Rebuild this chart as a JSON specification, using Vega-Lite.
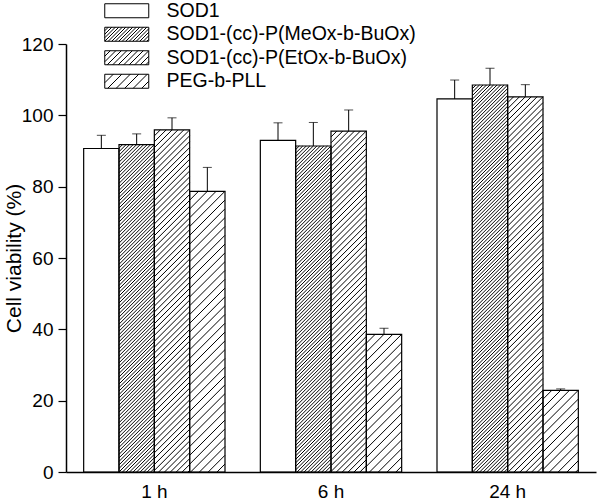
{
  "$schema": "https://vega.github.io/schema/vega-lite/v6.json",
  "width": 530,
  "height": 428,
  "autosize": {"type": "none"},
  "padding": {"left": 66, "top": 44, "right": 4, "bottom": 30},
  "background": "white",
  "config": {
    "view": {"stroke": null},
    "font": "Liberation Sans",
    "axis": {"labelFont": "Liberation Sans", "titleFont": "Liberation Sans", "labelColor": "black", "titleColor": "black", "domainColor": "black", "tickColor": "black", "grid": false},
    "legend": {"labelFont": "Liberation Sans", "labelColor": "black"}
  },
  "data": {
    "values": [
      {"time": "1 h", "series": "SOD1", "value": 90.7, "upper": 94.4},
      {"time": "1 h", "series": "SOD1-(cc)-P(MeOx-b-BuOx)", "value": 91.8, "upper": 94.8},
      {"time": "1 h", "series": "SOD1-(cc)-P(EtOx-b-BuOx)", "value": 95.9, "upper": 99.3},
      {"time": "1 h", "series": "PEG-b-PLL", "value": 78.7, "upper": 85.4},
      {"time": "6 h", "series": "SOD1", "value": 93.0, "upper": 97.9},
      {"time": "6 h", "series": "SOD1-(cc)-P(MeOx-b-BuOx)", "value": 91.4, "upper": 98.0},
      {"time": "6 h", "series": "SOD1-(cc)-P(EtOx-b-BuOx)", "value": 95.6, "upper": 101.5},
      {"time": "6 h", "series": "PEG-b-PLL", "value": 38.6, "upper": 40.3},
      {"time": "24 h", "series": "SOD1", "value": 104.6, "upper": 109.9},
      {"time": "24 h", "series": "SOD1-(cc)-P(MeOx-b-BuOx)", "value": 108.5, "upper": 113.2},
      {"time": "24 h", "series": "SOD1-(cc)-P(EtOx-b-BuOx)", "value": 105.2, "upper": 108.6},
      {"time": "24 h", "series": "PEG-b-PLL", "value": 22.9, "upper": 23.3}
    ]
  },
  "encoding": {
    "x": {
      "field": "time", "type": "nominal", "sort": ["1 h", "6 h", "24 h"],
      "scale": {"paddingInner": 0.2, "paddingOuter": 0.1},
      "axis": {"title": null, "labelAngle": 0, "labelFontSize": 19, "ticks": false, "labelPadding": 10, "domainWidth": 1.5}
    },
    "xOffset": {
      "field": "series", "type": "nominal",
      "sort": ["SOD1", "SOD1-(cc)-P(MeOx-b-BuOx)", "SOD1-(cc)-P(EtOx-b-BuOx)", "PEG-b-PLL"],
      "scale": {"paddingInner": 0, "paddingOuter": 0}
    }
  },
  "layer": [
    {
      "transform": [{"filter": "datum.series === 'SOD1-(cc)-P(MeOx-b-BuOx)'"}],
      "mark": {"type": "point", "clip": true, "size": 4, "filled": false, "stroke": "black", "strokeWidth": 1, "opacity": 1,
        "shape": "M-17.6,3.52L-14.08,0M-17.6,7.04L-10.56,0M-17.6,10.56L-7.04,0M-17.6,14.08L-3.52,0M-17.6,17.6L0,0M-17.6,21.12L3.52,0M-17.6,24.64L7.04,0M-17.6,28.16L10.56,0M-17.6,31.68L14.08,0M-17.6,35.2L17.6,0m-35.2,38.72l35.2,-35.2m-35.2,38.72l35.2,-35.2m-35.2,38.72l35.2,-35.2m-35.2,38.72l35.2,-35.2m-35.2,38.72l35.2,-35.2m-35.2,38.72l35.2,-35.2m-35.2,38.72l35.2,-35.2m-35.2,38.72l35.2,-35.2m-35.2,38.72l35.2,-35.2m-35.2,38.72l35.2,-35.2m-35.2,38.72l35.2,-35.2m-35.2,38.72l35.2,-35.2m-35.2,38.72l35.2,-35.2m-35.2,38.72l35.2,-35.2m-35.2,38.72l35.2,-35.2m-35.2,38.72l35.2,-35.2m-35.2,38.72l35.2,-35.2m-35.2,38.72l35.2,-35.2m-35.2,38.72l35.2,-35.2m-35.2,38.72l35.2,-35.2m-35.2,38.72l35.2,-35.2m-35.2,38.72l35.2,-35.2m-35.2,38.72l35.2,-35.2m-35.2,38.72l35.2,-35.2m-35.2,38.72l35.2,-35.2m-35.2,38.72l35.2,-35.2m-35.2,38.72l35.2,-35.2m-35.2,38.72l35.2,-35.2m-35.2,38.72l35.2,-35.2m-35.2,38.72l35.2,-35.2m-35.2,38.72l35.2,-35.2m-35.2,38.72l35.2,-35.2m-35.2,38.72l35.2,-35.2m-35.2,38.72l35.2,-35.2m-35.2,38.72l35.2,-35.2m-35.2,38.72l35.2,-35.2m-35.2,38.72l35.2,-35.2m-35.2,38.72l35.2,-35.2m-35.2,38.72l35.2,-35.2m-35.2,38.72l35.2,-35.2m-35.2,38.72l35.2,-35.2m-35.2,38.72l35.2,-35.2m-35.2,38.72l35.2,-35.2m-35.2,38.72l35.2,-35.2m-35.2,38.72l35.2,-35.2m-35.2,38.72l35.2,-35.2m-35.2,38.72l35.2,-35.2m-35.2,38.72l35.2,-35.2m-35.2,38.72l35.2,-35.2m-35.2,38.72l35.2,-35.2m-35.2,38.72l35.2,-35.2m-35.2,38.72l35.2,-35.2m-35.2,38.72l35.2,-35.2m-35.2,38.72l35.2,-35.2m-35.2,38.72l35.2,-35.2m-35.2,38.72l35.2,-35.2m-35.2,38.72l35.2,-35.2m-35.2,38.72l35.2,-35.2m-35.2,38.72l35.2,-35.2m-35.2,38.72l35.2,-35.2m-35.2,38.72l35.2,-35.2m-35.2,38.72l35.2,-35.2m-35.2,38.72l35.2,-35.2m-35.2,38.72l35.2,-35.2m-35.2,38.72l35.2,-35.2m-35.2,38.72l35.2,-35.2m-35.2,38.72l35.2,-35.2m-35.2,38.72l35.2,-35.2m-35.2,38.72l35.2,-35.2m-35.2,38.72l35.2,-35.2m-35.2,38.72l35.2,-35.2m-35.2,38.72l35.2,-35.2m-35.2,38.72l35.2,-35.2m-35.2,38.72l35.2,-35.2m-35.2,38.72l35.2,-35.2m-35.2,38.72l35.2,-35.2m-35.2,38.72l35.2,-35.2m-35.2,38.72l35.2,-35.2m-35.2,38.72l35.2,-35.2m-35.2,38.72l35.2,-35.2m-35.2,38.72l35.2,-35.2m-35.2,38.72l35.2,-35.2m-35.2,38.72l35.2,-35.2m-35.2,38.72l35.2,-35.2m-35.2,38.72l35.2,-35.2m-35.2,38.72l35.2,-35.2m-35.2,38.72l35.2,-35.2m-35.2,38.72l35.2,-35.2m-35.2,38.72l35.2,-35.2m-35.2,38.72l35.2,-35.2m-35.2,38.72l35.2,-35.2m-35.2,38.72l35.2,-35.2m-35.2,38.72l35.2,-35.2m-35.2,38.72l35.2,-35.2m-35.2,38.72l35.2,-35.2m-35.2,38.72l35.2,-35.2m-35.2,38.72l35.2,-35.2m-35.2,38.72l35.2,-35.2m-35.2,38.72l35.2,-35.2m-35.2,38.72l35.2,-35.2m-35.2,38.72l35.2,-35.2m-35.2,38.72l35.2,-35.2m-35.2,38.72l35.2,-35.2m-35.2,38.72l35.2,-35.2m-35.2,38.72l35.2,-35.2m-35.2,38.72l35.2,-35.2m-35.2,38.72l35.2,-35.2m-35.2,38.72l35.2,-35.2m-35.2,38.72l35.2,-35.2m-35.2,38.72l35.2,-35.2m-35.2,38.72l35.2,-35.2m-35.2,38.72l35.2,-35.2m-35.2,38.72l35.2,-35.2m-35.2,38.72l35.2,-35.2"},
      "encoding": {
        "y": {"field": "value", "type": "quantitative", "scale": {"domain": [0, 120], "nice": false},
          "axis": {
            "title": "Cell viability (%)", "titleFontSize": 21, "titleFontWeight": "normal", "titlePadding": -3,
            "values": [0, 10, 20, 30, 40, 50, 60, 70, 80, 90, 100, 110, 120],
            "labelExpr": "datum.value % 20 === 0 ? datum.label : ''",
            "tickSize": {"condition": {"test": "datum.value % 20 === 0", "value": 8}, "value": 4},
            "labelFontSize": 19, "labelPadding": 5, "domainWidth": 1.5, "tickWidth": 1.2
          }
        }
      }
    },
    {
      "transform": [{"filter": "datum.series === 'SOD1-(cc)-P(EtOx-b-BuOx)'"}],
      "mark": {"type": "point", "clip": true, "size": 4, "filled": false, "stroke": "black", "strokeWidth": 1, "opacity": 1,
        "shape": "M-17.6,5.87L-11.73,0M-17.6,11.73L-5.87,0M-17.6,17.6L0,0M-17.6,23.47L5.87,0M-17.6,29.33L11.73,0M-17.6,35.2L17.6,0m-35.2,41.07l35.2,-35.2m-35.2,41.07l35.2,-35.2m-35.2,41.07l35.2,-35.2m-35.2,41.07l35.2,-35.2m-35.2,41.07l35.2,-35.2m-35.2,41.07l35.2,-35.2m-35.2,41.07l35.2,-35.2m-35.2,41.07l35.2,-35.2m-35.2,41.07l35.2,-35.2m-35.2,41.07l35.2,-35.2m-35.2,41.07l35.2,-35.2m-35.2,41.07l35.2,-35.2m-35.2,41.07l35.2,-35.2m-35.2,41.07l35.2,-35.2m-35.2,41.07l35.2,-35.2m-35.2,41.07l35.2,-35.2m-35.2,41.07l35.2,-35.2m-35.2,41.07l35.2,-35.2m-35.2,41.07l35.2,-35.2m-35.2,41.07l35.2,-35.2m-35.2,41.07l35.2,-35.2m-35.2,41.07l35.2,-35.2m-35.2,41.07l35.2,-35.2m-35.2,41.07l35.2,-35.2m-35.2,41.07l35.2,-35.2m-35.2,41.07l35.2,-35.2m-35.2,41.07l35.2,-35.2m-35.2,41.07l35.2,-35.2m-35.2,41.07l35.2,-35.2m-35.2,41.07l35.2,-35.2m-35.2,41.07l35.2,-35.2m-35.2,41.07l35.2,-35.2m-35.2,41.07l35.2,-35.2m-35.2,41.07l35.2,-35.2m-35.2,41.07l35.2,-35.2m-35.2,41.07l35.2,-35.2m-35.2,41.07l35.2,-35.2m-35.2,41.07l35.2,-35.2m-35.2,41.07l35.2,-35.2m-35.2,41.07l35.2,-35.2m-35.2,41.07l35.2,-35.2m-35.2,41.07l35.2,-35.2m-35.2,41.07l35.2,-35.2m-35.2,41.07l35.2,-35.2m-35.2,41.07l35.2,-35.2m-35.2,41.07l35.2,-35.2m-35.2,41.07l35.2,-35.2m-35.2,41.07l35.2,-35.2m-35.2,41.07l35.2,-35.2m-35.2,41.07l35.2,-35.2m-35.2,41.07l35.2,-35.2m-35.2,41.07l35.2,-35.2m-35.2,41.07l35.2,-35.2m-35.2,41.07l35.2,-35.2m-35.2,41.07l35.2,-35.2m-35.2,41.07l35.2,-35.2m-35.2,41.07l35.2,-35.2m-35.2,41.07l35.2,-35.2m-35.2,41.07l35.2,-35.2m-35.2,41.07l35.2,-35.2m-35.2,41.07l35.2,-35.2m-35.2,41.07l35.2,-35.2m-35.2,41.07l35.2,-35.2m-35.2,41.07l35.2,-35.2m-35.2,41.07l35.2,-35.2m-35.2,41.07l35.2,-35.2m-35.2,41.07l35.2,-35.2m-35.2,41.07l35.2,-35.2m-35.2,41.07l35.2,-35.2"},
      "encoding": {"y": {"field": "value", "type": "quantitative"}}
    },
    {
      "transform": [{"filter": "datum.series === 'PEG-b-PLL'"}],
      "mark": {"type": "point", "clip": true, "size": 4, "filled": false, "stroke": "black", "strokeWidth": 1, "opacity": 1,
        "shape": "M-17.6,8.8L-8.8,0M-17.6,17.6L0,0M-17.6,26.4L8.8,0M-17.6,35.2L17.6,0m-35.2,44l35.2,-35.2m-35.2,44l35.2,-35.2m-35.2,44l35.2,-35.2m-35.2,44l35.2,-35.2m-35.2,44l35.2,-35.2m-35.2,44l35.2,-35.2m-35.2,44l35.2,-35.2m-35.2,44l35.2,-35.2m-35.2,44l35.2,-35.2m-35.2,44l35.2,-35.2m-35.2,44l35.2,-35.2m-35.2,44l35.2,-35.2m-35.2,44l35.2,-35.2m-35.2,44l35.2,-35.2m-35.2,44l35.2,-35.2m-35.2,44l35.2,-35.2m-35.2,44l35.2,-35.2m-35.2,44l35.2,-35.2m-35.2,44l35.2,-35.2m-35.2,44l35.2,-35.2m-35.2,44l35.2,-35.2m-35.2,44l35.2,-35.2m-35.2,44l35.2,-35.2m-35.2,44l35.2,-35.2m-35.2,44l35.2,-35.2m-35.2,44l35.2,-35.2m-35.2,44l35.2,-35.2m-35.2,44l35.2,-35.2m-35.2,44l35.2,-35.2m-35.2,44l35.2,-35.2m-35.2,44l35.2,-35.2m-35.2,44l35.2,-35.2m-35.2,44l35.2,-35.2m-35.2,44l35.2,-35.2m-35.2,44l35.2,-35.2m-35.2,44l35.2,-35.2m-35.2,44l35.2,-35.2m-35.2,44l35.2,-35.2m-35.2,44l35.2,-35.2m-35.2,44l35.2,-35.2m-35.2,44l35.2,-35.2m-35.2,44l35.2,-35.2m-35.2,44l35.2,-35.2m-35.2,44l35.2,-35.2m-35.2,44l35.2,-35.2m-35.2,44l35.2,-35.2m-35.2,44l35.2,-35.2m-35.2,44l35.2,-35.2"},
      "encoding": {"y": {"field": "value", "type": "quantitative"}}
    },
    {
      "mark": {"type": "bar", "filled": false, "stroke": "black", "strokeWidth": 1.2},
      "encoding": {"y": {"field": "value", "type": "quantitative"}}
    },
    {
      "mark": {"type": "rule", "stroke": "black", "strokeWidth": 1},
      "encoding": {"y": {"field": "value", "type": "quantitative"}, "y2": {"field": "upper"}}
    },
    {
      "mark": {"type": "tick", "color": "black", "size": 9, "thickness": 1, "orient": "horizontal"},
      "encoding": {"y": {"field": "upper", "type": "quantitative"}}
    },
    {
      "mark": {"type": "point", "opacity": 0, "color": "black", "filled": false},
      "encoding": {
        "y": {"field": "value", "type": "quantitative"},
        "shape": {
          "field": "series", "type": "nominal",
          "scale": {
            "domain": ["SOD1", "SOD1-(cc)-P(MeOx-b-BuOx)", "SOD1-(cc)-P(EtOx-b-BuOx)", "PEG-b-PLL"],
            "range": [
              "M-22,-7H22V7H-22Z",
              "M-22,-7H22V7H-22ZM-22,-3.5L-18.5,-7M-22,0L-15,-7M-22,3.5L-11.5,-7M-22,7L-8,-7M-18.5,7L-4.5,-7M-15,7L-1,-7M-11.5,7L2.5,-7M-8,7L6,-7M-4.5,7L9.5,-7M-1,7L13,-7M2.5,7L16.5,-7M6,7L20,-7M9.5,7L22,-5.5M13,7L22,-2M16.5,7L22,1.5M20,7L22,5",
              "M-22,-7H22V7H-22ZM-22,-1.5L-16.5,-7M-22,4L-11,-7M-19.5,7L-5.5,-7M-14,7L0,-7M-8.5,7L5.5,-7M-3,7L11,-7M2.5,7L16.5,-7M8,7L22,-7M13.5,7L22,-1.5M19,7L22,4",
              "M-22,-7H22V7H-22ZM-22,1.5L-13.5,-7M-19,7L-5,-7M-10.5,7L3.5,-7M-2,7L12,-7M6.5,7L20.5,-7M15,7L22,0"
            ]
          },
          "legend": {
            "title": null, "orient": "none", "legendX": 51, "legendY": -43,
            "symbolSize": 4, "symbolStrokeWidth": 1, "symbolStrokeColor": "black", "symbolFillColor": "white", "symbolOpacity": 1,
            "labelFontSize": 19.5, "labelOffset": 30, "rowPadding": 2.5, "labelLimit": 400
          }
        }
      }
    }
  ]
}
